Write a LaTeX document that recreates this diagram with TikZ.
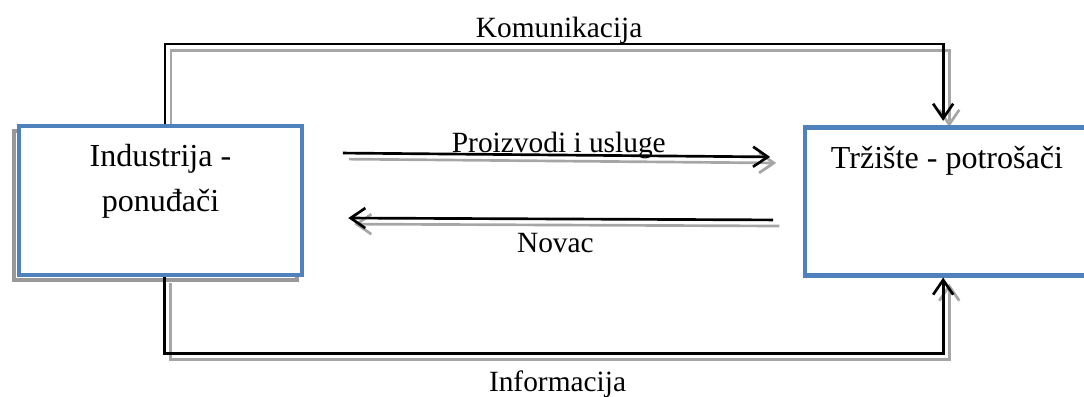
\documentclass[tikz,border=0pt]{standalone}
\usepackage{fontspec}
\setmainfont{Liberation Serif}
\usetikzlibrary{arrows.meta,shadows,backgrounds}
\definecolor{boxblue}{RGB}{79,129,189}

\begin{document}
\begin{tikzpicture}[
    firm/.style={draw=boxblue, line width=1.6pt, fill=white},
    link/.style={black, line width=1pt, -{Straight Barb[length=5.5pt,width=7.5pt]}},
    ghost/.style={link, black!35, transform canvas={shift={(0.08,-0.08)}}},
    flow/.style={font=\fontsize{11}{13}\selectfont, inner sep=0pt, anchor=base},
    firmtext/.style={font=\fontsize{12}{16.8}\selectfont, align=center, inner sep=0pt, anchor=base}
]
    \useasboundingbox (0,0) rectangle (14.263,5.211);

    % Industrija i trziste
    \node[firm, general shadow={shadow xshift=-0.066cm, shadow yshift=-0.066cm, draw=black!40, line width=1.4pt},
          minimum width=3.724cm, minimum height=1.961cm] (ind) at (2.112,2.572) {};
    \node[firm, minimum width=3.737cm, minimum height=1.947cm] (trz) at (12.46,2.56) {};
    \node[firmtext] (indtxt) at ([yshift=-1.157cm]ind.north) {Industrija -\\ponuđači};
    \node[firmtext] (trztxt) at ([yshift=-0.57cm]trz.north) {Tržište - potrošači};

    % Sjene strelica
    \begin{scope}[on background layer]
        \draw[ghost] ([xshift=0.06cm]ind.north) -- ++(0,1.05) -| ([xshift=-0.05cm,yshift=0.06cm]trz.north);
        \draw[ghost] ([xshift=0.05cm]ind.south) -- ++(0,-1.0) -| ([xshift=-0.05cm]trz.south);
        \draw[ghost] ([xshift=0.51cm,yshift=0.625cm]ind.east) -- ([xshift=-0.43cm,yshift=0.586cm]trz.west);
        \draw[ghost] ([xshift=-0.39cm,yshift=-0.243cm]trz.west) -- ([xshift=0.58cm,yshift=-0.23cm]ind.east);
    \end{scope}

    % Strelice
    \draw[link] ([xshift=0.06cm]ind.north) -- ++(0,1.05) -| ([xshift=-0.05cm,yshift=0.06cm]trz.north)
        node[flow, pos=0.25, xshift=0.066cm, yshift=2.6pt] (kom) {Komunikacija};
    \draw[link] ([xshift=0.05cm]ind.south) -- ++(0,-1.0) -| ([xshift=-0.05cm]trz.south)
        node[flow, pos=0.25, xshift=0.05cm, yshift=-14.2pt] (info) {Informacija};
    \draw[link] ([xshift=0.51cm,yshift=0.625cm]ind.east) -- ([xshift=-0.43cm,yshift=0.586cm]trz.west)
        node[flow, midway, xshift=0.03cm, yshift=1pt] (proiz) {Proizvodi i usluge};
    \draw[link] ([xshift=-0.39cm,yshift=-0.243cm]trz.west) -- ([xshift=0.58cm,yshift=-0.23cm]ind.east)
        node[flow, midway, xshift=-0.07cm, yshift=-12.5pt] (nov) {Novac};
\end{tikzpicture}
\end{document}
